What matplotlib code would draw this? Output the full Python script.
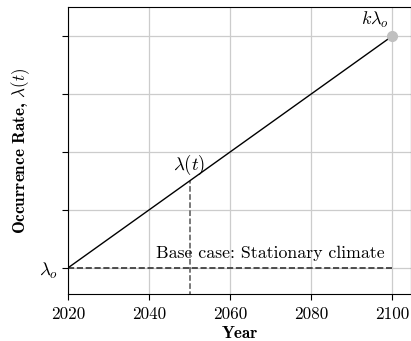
import matplotlib
matplotlib.use('Agg')
import matplotlib.pyplot as plt

plt.rcParams['font.family'] = 'serif'
plt.rcParams['font.serif'] = ['cmr10']
plt.rcParams['mathtext.fontset'] = 'cm'
plt.rcParams['axes.unicode_minus'] = False
plt.rcParams['font.size'] = 12.3

# occurrence rate grows linearly from lambda_o (2020) to k*lambda_o (2100)
years = [2020, 2100]
rate = [1.0, 5.0]
base_rate = 1.0
marked_year = 2050
year_ticks = [2020, 2040, 2060, 2080, 2100]
rate_ticks = [1, 2, 3, 4, 5]
rate_ticklabels = [r'$\lambda_o$', '', '', '', '']

fig = plt.figure(figsize=(4.11, 3.41), dpi=100)
ax = fig.add_axes([0.1655, 0.138, 0.8345, 0.8415])

ax.grid(True, color='#cccccc', linewidth=0.9, zorder=0)
ax.set_axisbelow(True)

ax.plot(years, rate, color='black', linewidth=1.0, zorder=3)
ax.plot([years[-1]], [rate[-1]], 'o', color='#c0c0c0', markersize=7, zorder=4)
ax.hlines(base_rate, years[0], years[-1], colors='#333333', linestyles='--',
          linewidth=1.2, zorder=2)

# value on the trend line at the marked year
frac = (marked_year - years[0]) / (years[-1] - years[0])
marked_rate = rate[0] + frac * (rate[-1] - rate[0])
ax.vlines(marked_year, 0.5, marked_rate, colors='#555555', linestyles='--',
          linewidth=1.1, zorder=2)

ax.text(marked_year, marked_rate + 0.06, r'$\lambda(t)$', ha='center', va='bottom',
        fontsize=13.5)
ax.text(2070, 1.12, 'Base case: Stationary climate', ha='center', va='bottom',
        fontsize=12.8)
ax.text(years[-1] - 0.8, rate[-1] + 0.1, r'$k\lambda_o$', ha='right', va='bottom',
        fontsize=13)

ax.set_xlim(2020, 2104.6)
ax.set_ylim(0.55, 5.5)
ax.set_xticks(year_ticks)
ax.set_yticks(rate_ticks)
ax.set_yticklabels(rate_ticklabels, fontsize=13.5)
ax.tick_params(direction='out', length=4, width=0.8)
ax.tick_params(axis='x', pad=5)

ax.set_xlabel('Year', family='cmb10', fontsize=12.3, labelpad=3)
ax.set_ylabel(r'Occurrence Rate, $\lambda(t)$', family='cmb10', fontsize=12.3,
              labelpad=5)

fig.savefig('out.png', dpi=100)
